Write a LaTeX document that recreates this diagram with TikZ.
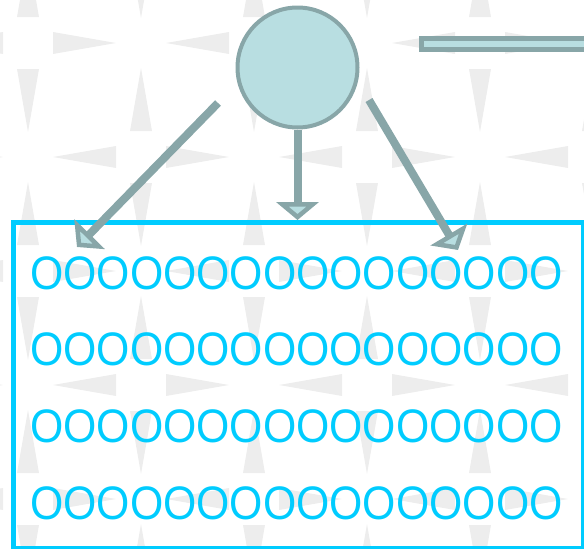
\documentclass[tikz,border=0pt]{standalone}
\usepackage{fontspec}
\setmainfont{Liberation Sans}
\newfontfamily\ofont[FakeStretch=0.91]{Liberation Sans}
\usetikzlibrary{arrows.meta}
\definecolor{tealfill}{HTML}{B8DEE1}
\definecolor{tealline}{HTML}{88A6A8}
\definecolor{cyanline}{HTML}{00CCFF}
\definecolor{bgtri}{HTML}{EDEDED}
\begin{document}
\begin{tikzpicture}[x=1pt,y=-1pt,
  conn/.style={draw=tealline, line width=8pt, -{Triangle[open,length=18pt,width=42pt,line width=5pt,fill=tealfill]}},
  txt/.style={anchor=base west, inner sep=0pt, text=cyanline, font=\ofont\fontsize{47}{47}\selectfont}]
\useasboundingbox (0,0) rectangle (584,549);
\begin{scope}
\clip (0,0) rectangle (584,549);
\foreach \i in {-1,...,5} {
  \foreach \j in {-1,...,5} {
    \pgfmathtruncatemacro\myodd{mod(\i+\j+12,2)}
    \ifnum\myodd=1
      \pgfmathsetmacro\cx{28+113*\i}
      \pgfmathsetmacro\cy{43+114*\j}
      \fill[bgtri] ({\cx-25},\cy) -- ({\cx-88},{\cy-11}) -- ({\cx-88},{\cy+11}) -- cycle;
      \fill[bgtri] ({\cx+25},\cy) -- ({\cx+88},{\cy-11}) -- ({\cx+88},{\cy+11}) -- cycle;
      \fill[bgtri] (\cx,{\cy-25}) -- ({\cx-11},{\cy-88}) -- ({\cx+11},{\cy-88}) -- cycle;
      \fill[bgtri] (\cx,{\cy+25}) -- ({\cx-11},{\cy+88}) -- ({\cx+11},{\cy+88}) -- cycle;
    \fi
  }
}
\node[draw=tealline, fill=tealfill, line width=5pt, minimum width=180pt, minimum height=11pt, anchor=west, inner sep=0pt] (bar) at (418.5,44) {};
\end{scope}
\node[circle, draw=tealline, line width=4pt, fill=tealfill, minimum size=120pt, inner sep=0pt] (c) at (297.5,67.5) {};
\node[draw=cyanline, line width=5pt, minimum width=570pt, minimum height=326pt, inner sep=0pt, anchor=north west] (box) at (11,220) {};
\coordinate (b1) at (30,289.3);
\coordinate (b2) at (30,365.8);
\coordinate (b3) at (30,442.8);
\coordinate (b4) at (30,519.3);
\node[txt] (t1) at (b1) {OOOOOOOOOOOOOOOO};
\node[txt] (t2) at (b2) {OOOOOOOOOOOOOOOO};
\node[txt] (t3) at (b3) {OOOOOOOOOOOOOOOO};
\node[txt] (t4) at (b4) {OOOOOOOOOOOOOOOO};
\coordinate (ls) at (218,103);
\coordinate (le) at (77,247);
\coordinate (me) at (297.5,220);
\coordinate (rs) at (369,100);
\coordinate (re) at (458,250);
\draw[conn] (ls) -- (le);
\draw[conn] (c.south) -- (me);
\draw[conn] (rs) -- (re);
\end{tikzpicture}
\end{document}
